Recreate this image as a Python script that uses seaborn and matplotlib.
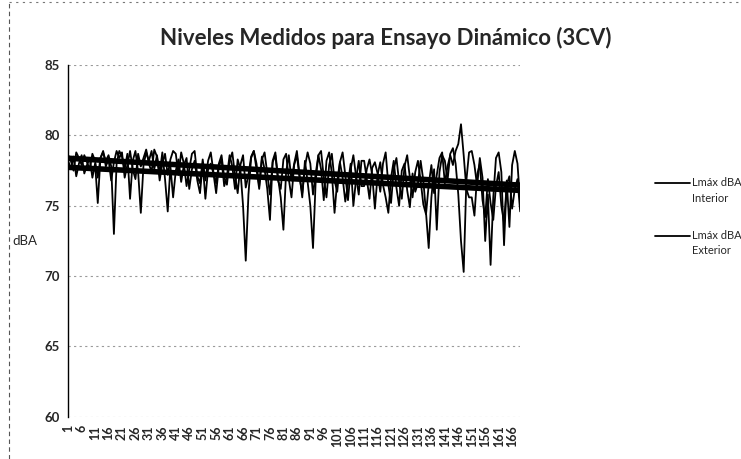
import numpy as np
import pandas as pd
import matplotlib
matplotlib.use("Agg")
import matplotlib.pyplot as plt
import seaborn as sns

# ==========================================
# DATA
# ==========================================

interior = [
    78.6, 78.2, 77.5, 78.8, 78.4, 77.9, 78.6, 78.1, 77.6, 78.7,
    78.2, 77.0, 78.4, 78.9, 77.8, 78.3, 76.8, 78.1, 78.9, 78.4,
    78.8, 77.0, 77.9, 78.9, 77.6, 76.9, 78.7, 77.8, 78.4, 79.0,
    78.0, 77.4, 79.0, 78.5, 76.8, 78.0, 78.7, 77.2, 78.3, 78.9,
    78.7, 77.2, 78.8, 78.0, 76.4, 77.6, 78.7, 78.9, 77.1, 76.6,
    78.3, 76.8, 78.2, 78.8, 77.4, 76.6, 78.0, 78.6, 77.0, 76.5,
    78.2, 78.8, 77.2, 75.9, 77.9, 78.6, 76.3, 77.2, 78.5, 78.9,
    77.6, 76.2, 78.3, 78.8, 77.3, 75.8, 78.1, 78.6, 76.8, 76.2,
    78.3, 78.7, 76.9, 75.6, 77.9, 78.6, 77.0, 75.9, 77.8, 78.8,
    78.0, 75.8, 77.3, 78.6, 78.9, 77.0, 75.6, 77.9, 78.7, 76.8,
    76.0, 78.1, 78.8, 77.2, 75.4, 77.6, 78.6, 77.1, 75.8, 78.2,
    78.2, 76.9, 75.5, 77.7, 78.1, 77.3, 76.0, 78.0, 78.8, 76.5,
    75.2, 77.6, 78.4, 76.7, 75.5, 77.8, 78.6, 77.0, 75.6, 77.4,
    78.2, 76.8, 75.1, 74.4, 76.5, 77.9, 75.9, 77.2, 78.4, 78.8,
    76.6, 77.8, 78.6, 77.9, 78.9, 79.4, 80.8, 78.6, 76.2, 75.6,
    75.6, 74.3, 77.2, 78.0, 75.4, 74.2, 76.9, 75.2, 74.0, 76.4,
    77.4, 75.0, 73.8, 76.5, 77.1, 74.8, 76.2, 76.9, 74.6,
]

exterior = [
    78.2, 77.6, 78.5, 77.1, 78.0, 78.6, 77.3, 77.9, 78.4, 77.0,
    78.0, 75.2, 78.4, 78.8, 78.2, 78.6, 77.8, 73.0, 78.0, 78.9,
    78.5, 77.6, 78.7, 75.5, 78.2, 78.9, 77.4, 74.5, 77.9, 78.8,
    78.2, 78.9, 77.6, 78.6, 77.3, 78.8, 76.9, 74.6, 77.8, 75.6,
    77.5, 78.3, 76.7, 77.9, 78.4, 76.2, 77.6, 78.2, 76.8, 75.9,
    78.0, 75.5, 77.6, 78.0, 77.3, 75.9, 77.8, 78.3, 76.4, 77.1,
    78.6, 77.8, 76.2, 78.3, 77.6, 75.0, 71.1, 75.8, 78.4, 78.9,
    78.0, 76.4, 78.5, 77.6, 76.2, 74.0, 78.2, 78.8, 77.0, 75.6,
    73.3, 77.4, 78.6, 76.8, 78.0, 78.9, 77.2, 75.6, 78.2, 76.7,
    75.0, 72.0, 76.8, 78.6, 77.6, 75.4, 78.2, 78.8, 77.3, 74.5,
    76.8, 78.1, 77.0, 75.3, 76.6, 78.0, 75.0, 76.9, 78.2, 76.4,
    76.4, 77.6, 78.3, 77.2, 74.8, 77.2, 78.1, 76.5, 75.6, 74.5,
    77.0, 78.2, 76.3, 75.0, 77.5, 78.0, 76.1, 74.9, 77.3, 76.0,
    76.6, 78.2, 76.8, 74.5, 72.0, 75.6, 77.6, 73.3, 77.4, 78.6,
    78.2, 76.8, 78.7, 79.1, 78.0, 75.8, 72.5, 70.3, 76.8, 78.8,
    78.9, 77.9, 76.4, 78.4, 77.0, 72.5, 75.8, 70.8, 75.6, 78.4,
    78.8, 77.4, 72.2, 76.8, 73.5, 77.9, 78.9, 78.0, 75.2,
]

series_names = ["Lmáx dBA\nInterior", "Lmáx dBA\nExterior"]
title = "Niveles Medidos para Ensayo Dinámico (3CV)"
y_ticks = [60, 65, 70, 75, 80, 85]

n = len(interior)
muestra = np.arange(1, n + 1)
x_ticks = list(range(1, n, 5))

df = pd.DataFrame({"Muestra": muestra, "Interior": interior, "Exterior": exterior})

# ==========================================
# PLOT
# ==========================================

sns.set_style("white")
plt.rcParams["font.family"] = ["Lato", "DejaVu Sans"]

fig = plt.figure(figsize=(7.41, 4.59), dpi=100)
ax = fig.add_axes([0.092, 0.092, 0.61, 0.766])

for y in y_ticks:
    ax.axhline(y, color="#9a9a9a", linewidth=0.8, linestyle=(0, (2, 3)), zorder=0)

sns.lineplot(data=df, x="Muestra", y="Interior", color="black", linewidth=1.3, ax=ax)
sns.lineplot(data=df, x="Muestra", y="Exterior", color="black", linewidth=1.3, ax=ax)

# linear trendlines
sns.regplot(data=df, x="Muestra", y="Interior", scatter=False, ci=None,
            color="black", line_kws={"linewidth": 4}, ax=ax)
sns.regplot(data=df, x="Muestra", y="Exterior", scatter=False, ci=None,
            color="black", line_kws={"linewidth": 4}, ax=ax)

ax.set_xlim(1, n)
ax.set_ylim(60, 85)
ax.set_yticks(y_ticks)
ax.set_xticks(x_ticks)
ax.set_xticklabels([str(t) for t in x_ticks], rotation=90, fontsize=9, fontweight="bold")
ax.set_yticklabels([str(t) for t in y_ticks], fontsize=9.5, fontweight="bold")
ax.tick_params(axis="both", length=0, pad=6)
ax.set_xlabel("")
ax.set_ylabel("dBA", rotation=0, fontsize=9.5, va="center")
ax.yaxis.set_label_coords(-0.095, 0.5)

for s in ["top", "right", "bottom"]:
    ax.spines[s].set_visible(False)
ax.spines["left"].set_color("black")
ax.spines["left"].set_linewidth(1.0)

fig.text(0.52, 0.918, title, ha="center", va="center", fontsize=16, fontweight="bold")

# legend: line next to the first row of each label
for name, y in zip(series_names, [0.601, 0.486]):
    fig.add_artist(plt.Line2D([0.884, 0.931], [y, y], color="black", linewidth=1.3))
    fig.text(0.934, y + 0.013, name, ha="left", va="top", fontsize=8, linespacing=1.5)

# dashed scan border
fig.add_artist(plt.Line2D([0.012, 0.012], [0.0, 0.995], color="#555555",
                          linewidth=0.8, linestyle=(0, (4, 3))))
fig.add_artist(plt.Line2D([0.012, 1.0], [0.995, 0.995], color="#777777",
                          linewidth=0.8, linestyle=(0, (2, 4))))

plt.savefig("out.png", dpi=100)
